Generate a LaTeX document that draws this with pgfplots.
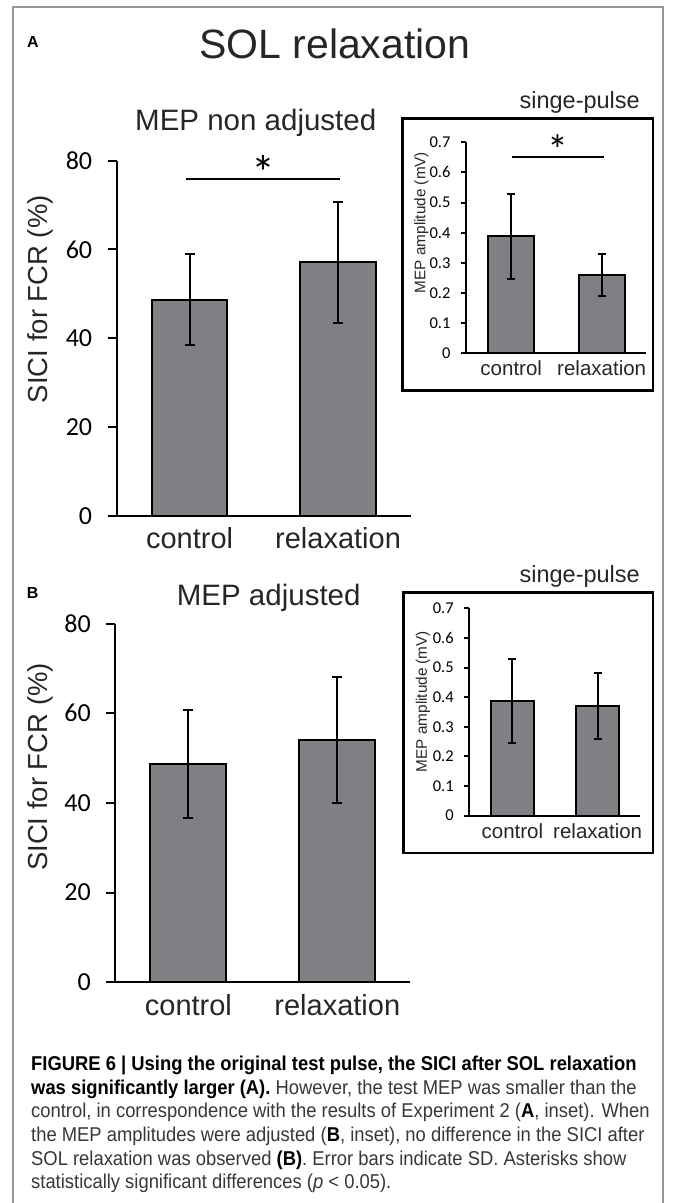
\documentclass[border=0pt]{standalone}
\usepackage{fontspec}
\setmainfont{Liberation Sans}
\newfontfamily\calfont{Carlito}
\newfontfamily\capfont[FakeStretch=0.92]{Liberation Sans}
\usepackage{pgfplots}
\usepackage{pgfplotstable}
\pgfplotsset{compat=1.18}
\definecolor{bargray}{RGB}{127,128,131}
\definecolor{txt}{RGB}{38,38,38}
\definecolor{framegray}{RGB}{150,150,150}
\definecolor{captxt}{RGB}{55,55,55}
\newcommand{\fs}[1]{\fontsize{#1}{#1}\selectfont}

\pgfplotstableread{
x y e
0 48.65 10.25
1 57.1 13.6
}\mainA
\pgfplotstableread{
x y e
0 48.7 12.1
1 54.0 14.0
}\mainB
\pgfplotstableread{
x y e
0 0.388 0.142
1 0.260 0.071
}\insetA
\pgfplotstableread{
x y e
0 0.387 0.141
1 0.371 0.112
}\insetB

\pgfplotsset{
  sicibar/.style={
    scale only axis, anchor=south west,
    axis x line=bottom, axis y line=left,
    axis line style={-, line width=2pt, black},
    enlargelimits=false,
    tick align=outside,
    ytick pos=left,
    xtick={0,1}, xticklabels={control,relaxation},
    xtick style={draw=none},
    ytick style={line width=2pt, black},
    ybar, clip=false,
    /pgf/number format/assume math mode=true,
  },
  barstyle/.style={fill=bargray, draw=black, line width=#1,
    error bars/.cd, y dir=both, y explicit,
    error bar style={line width=#1, black},
    error mark options={rotate=90, line width=#1, black, mark size=5pt}},
  ibarstyle/.style={fill=bargray, draw=black, line width=#1,
    error bars/.cd, y dir=both, y explicit,
    error bar style={line width=#1, black},
    error mark options={rotate=90, line width=#1, black, mark size=4pt}},
}

\begin{document}
\begin{tikzpicture}[x=1pt,y=1pt]
\useasboundingbox (0,0) rectangle (675,1203);
\draw[framegray, line width=2pt] (13.3,-5) -- (13.3,1195.7) -- (663,1195.7) -- (663,-5);

% labels and titles
\node[anchor=base west, inner sep=0, font=\bfseries\fs{16}] at (27,1155) {A};
\node[anchor=base west, inner sep=0, font=\bfseries\fs{16}] at (26.7,604.7) {B};
\node[anchor=base west, inner sep=0, font=\fs{41}, text=txt] at (199,1144) {SOL relaxation};
\node[anchor=base west, inner sep=0, font=\fs{29.5}, text=txt] at (135,1072.3) {MEP non adjusted};
\node[anchor=base west, inner sep=0, font=\fs{29.5}, text=txt] at (176.7,597) {MEP adjusted};
\node[anchor=base east, inner sep=0, font=\fs{23.5}, text=txt] at (640,1094.7) {singe-pulse};
\node[anchor=base east, inner sep=0, font=\fs{23.5}, text=txt] at (640,620) {singe-pulse};
\draw[line width=2.5pt] (402.5,812.3) rectangle (653,1084.7);
\draw[line width=2.5pt] (403.3,350) rectangle (653,610.3);

% Panel A main
\begin{axis}[sicibar, at={(116.7pt,687.3pt)}, width=294.1pt, height=355pt,
  xmin=-0.491, xmax=1.49, ymin=0, ymax=80, ytick={0,20,40,60,80},
  bar width=75.6pt, major tick length=9pt,
  yticklabel style={font=\calfont\fs{26}, xshift=-12pt},
  xticklabel style={font=\fs{29}, text=txt, anchor=base, yshift=-24pt},
  ylabel={SICI for FCR (\%)},
  ylabel style={font=\fs{27.5}, text=txt, at={(axis description cs:-0.261,0.61)}, anchor=center}]
\addplot[barstyle=2pt] table[x=x, y=y, y error=e]{\mainA};
\draw[line width=2pt] (axis cs:-0.024,75.8) -- (axis cs:1.015,75.8);
\node[font=\calfont\fs{48}, anchor=north, inner sep=0] at (axis cs:0.496,81.2) {*};
\end{axis}

% Panel A inset
\begin{axis}[sicibar, at={(466pt,849.7pt)}, width=180pt, height=211pt,
  xmin=-0.5, xmax=1.49, ymin=0, ymax=0.7,
  ytick={0,0.1,0.2,0.3,0.4,0.5,0.6,0.7},
  yticklabels={0,0.1,0.2,0.3,0.4,0.5,0.6,0.7},
  bar width=46pt, major tick length=5pt,
  yticklabel style={font=\calfont\fs{16.5}, xshift=-7pt},
  xticklabel style={font=\fs{20.5}, text=txt, anchor=base, yshift=-17.7pt},
  ylabel={MEP amplitude (mV)},
  ylabel style={font=\fs{15.3}, text=txt, at={(axis description cs:-0.248,0.62)}, anchor=center}]
\addplot[ibarstyle=2pt] table[x=x, y=y, y error=e]{\insetA};
\draw[line width=2pt] (axis cs:0.004,0.65) -- (axis cs:1.03,0.65);
\node[font=\calfont\fs{42}, anchor=north, inner sep=0] at (axis cs:0.516,0.725) {*};
\end{axis}

% Panel B main
\begin{axis}[sicibar, at={(115.3pt,220.7pt)}, width=295pt, height=358.7pt,
  xmin=-0.491, xmax=1.49, ymin=0, ymax=80, ytick={0,20,40,60,80},
  bar width=76pt, major tick length=9pt,
  yticklabel style={font=\calfont\fs{26}, xshift=-12pt},
  xticklabel style={font=\fs{29}, text=txt, anchor=base, yshift=-24pt},
  ylabel={SICI for FCR (\%)},
  ylabel style={font=\fs{27.5}, text=txt, at={(axis description cs:-0.255,0.60)}, anchor=center}]
\addplot[barstyle=2pt] table[x=x, y=y, y error=e]{\mainB};
\end{axis}

% Panel B inset
\begin{axis}[sicibar, at={(469.3pt,387.4pt)}, width=171pt, height=207.3pt,
  xmin=-0.506, xmax=1.5, ymin=0, ymax=0.7,
  ytick={0,0.1,0.2,0.3,0.4,0.5,0.6,0.7},
  yticklabels={0,0.1,0.2,0.3,0.4,0.5,0.6,0.7},
  bar width=43.3pt, major tick length=5pt,
  yticklabel style={font=\calfont\fs{16.5}, xshift=-7pt},
  xticklabel style={font=\fs{20.5}, text=txt, anchor=base, yshift=-17.7pt},
  ylabel={MEP amplitude (mV)},
  ylabel style={font=\fs{15.3}, text=txt, at={(axis description cs:-0.271,0.55)}, anchor=center}]
\addplot[ibarstyle=2pt] table[x=x, y=y, y error=e]{\insetB};
\end{axis}

% caption
\begin{scope}[every node/.style={anchor=base west, inner sep=0, font=\capfont\fs{20}, text=captxt}]
\node at (31,132.4) {\textbf{\color{black}FIGURE 6 | Using the original test pulse, the SICI after SOL relaxation}};
\node at (31,108.7) {\textbf{\color{black}was significantly larger (A).} However, the test MEP was smaller than the};
\node at (31,85) {control, in correspondence with the results of Experiment 2 (\textbf{\color{black}A}, inset). When};
\node at (31,61.3) {the MEP amplitudes were adjusted (\textbf{\color{black}B}, inset), no difference in the SICI after};
\node at (31,37.6) {SOL relaxation was observed \textbf{\color{black}(B)}. Error bars indicate SD. Asterisks show};
\node at (31,14) {statistically significant differences (\textit{p} < 0.05).};
\end{scope}
\end{tikzpicture}
\end{document}
